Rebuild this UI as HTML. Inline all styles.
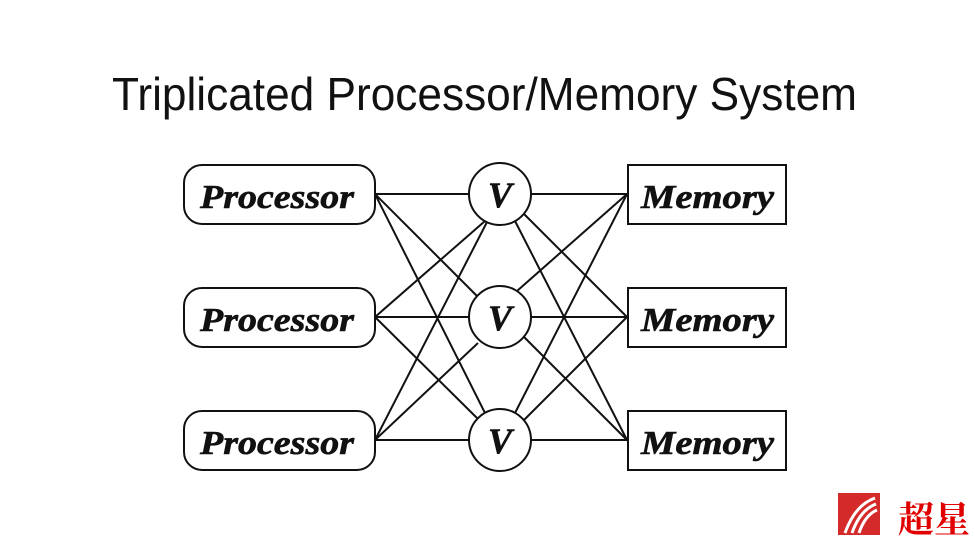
<!DOCTYPE html>
<html><head><meta charset="utf-8"><style>
html,body{margin:0;padding:0;background:#fff;}
svg{display:block;}
</style></head><body>
<svg width="975" height="549" viewBox="0 0 975 549" xmlns="http://www.w3.org/2000/svg">
<rect width="975" height="549" fill="#fff"/>
<text x="112" y="110" font-family="Liberation Sans, sans-serif" font-size="46" fill="#111" textLength="745" lengthAdjust="spacingAndGlyphs">Triplicated Processor/Memory System</text>
<g stroke="#111" stroke-width="2" fill="none">
<line x1="375" y1="194" x2="469" y2="194"/>
<line x1="375" y1="194" x2="477" y2="296"/>
<line x1="375" y1="194" x2="485" y2="413"/>
<line x1="375" y1="317" x2="485" y2="221"/>
<line x1="375" y1="317" x2="469" y2="317"/>
<line x1="375" y1="317" x2="477" y2="418"/>
<line x1="375" y1="440" x2="487" y2="222"/>
<line x1="375" y1="440" x2="478" y2="343"/>
<line x1="375" y1="440" x2="469" y2="440"/>
<line x1="531" y1="194" x2="627" y2="194"/>
<line x1="524" y1="214" x2="627" y2="317"/>
<line x1="515" y1="221" x2="627" y2="440"/>
<line x1="517" y1="291" x2="627" y2="194"/>
<line x1="531" y1="317" x2="627" y2="317"/>
<line x1="524" y1="337" x2="627" y2="440"/>
<line x1="515" y1="413" x2="627" y2="194"/>
<line x1="524" y1="420" x2="627" y2="317"/>
<line x1="531" y1="440" x2="627" y2="440"/>
<rect x="184" y="165" width="191" height="59" rx="18" fill="#fff"/>
<rect x="184" y="288" width="191" height="59" rx="18" fill="#fff"/>
<rect x="184" y="411" width="191" height="59" rx="18" fill="#fff"/>
<circle cx="500" cy="194" r="31" fill="#fff"/>
<circle cx="500" cy="317" r="31" fill="#fff"/>
<circle cx="500" cy="440" r="31" fill="#fff"/>
<rect x="628" y="165" width="158" height="59" fill="#fff"/>
<rect x="628" y="288" width="158" height="59" fill="#fff"/>
<rect x="628" y="411" width="158" height="59" fill="#fff"/>
</g>
<g font-family="Liberation Serif, serif" font-style="italic" font-weight="bold" font-size="34" fill="#111" stroke="#111" stroke-width="0.6">
<text x="200" y="208" textLength="154" lengthAdjust="spacingAndGlyphs">Processor</text>
<text x="200" y="331" textLength="154" lengthAdjust="spacingAndGlyphs">Processor</text>
<text x="200" y="454" textLength="154" lengthAdjust="spacingAndGlyphs">Processor</text>
<text x="641" y="208" textLength="133" lengthAdjust="spacingAndGlyphs">Memory</text>
<text x="641" y="331" textLength="133" lengthAdjust="spacingAndGlyphs">Memory</text>
<text x="641" y="454" textLength="133" lengthAdjust="spacingAndGlyphs">Memory</text>
<text x="500" y="207" text-anchor="middle" font-size="36">V</text>
<text x="500" y="330" text-anchor="middle" font-size="36">V</text>
<text x="500" y="453" text-anchor="middle" font-size="36">V</text>
</g>
<rect x="838" y="493" width="42" height="42" fill="#d42a2a"/>
<path d="M845 533 Q855 505 875 498 M852 533 Q860 510 876 504 M859 533 Q865 515 877 510" stroke="#fff" stroke-width="3" fill="none"/>
<text x="898" y="532" font-family="Noto Serif CJK SC, serif" font-size="36" font-weight="bold" fill="#e00000">超星</text>
</svg>
</body></html>
